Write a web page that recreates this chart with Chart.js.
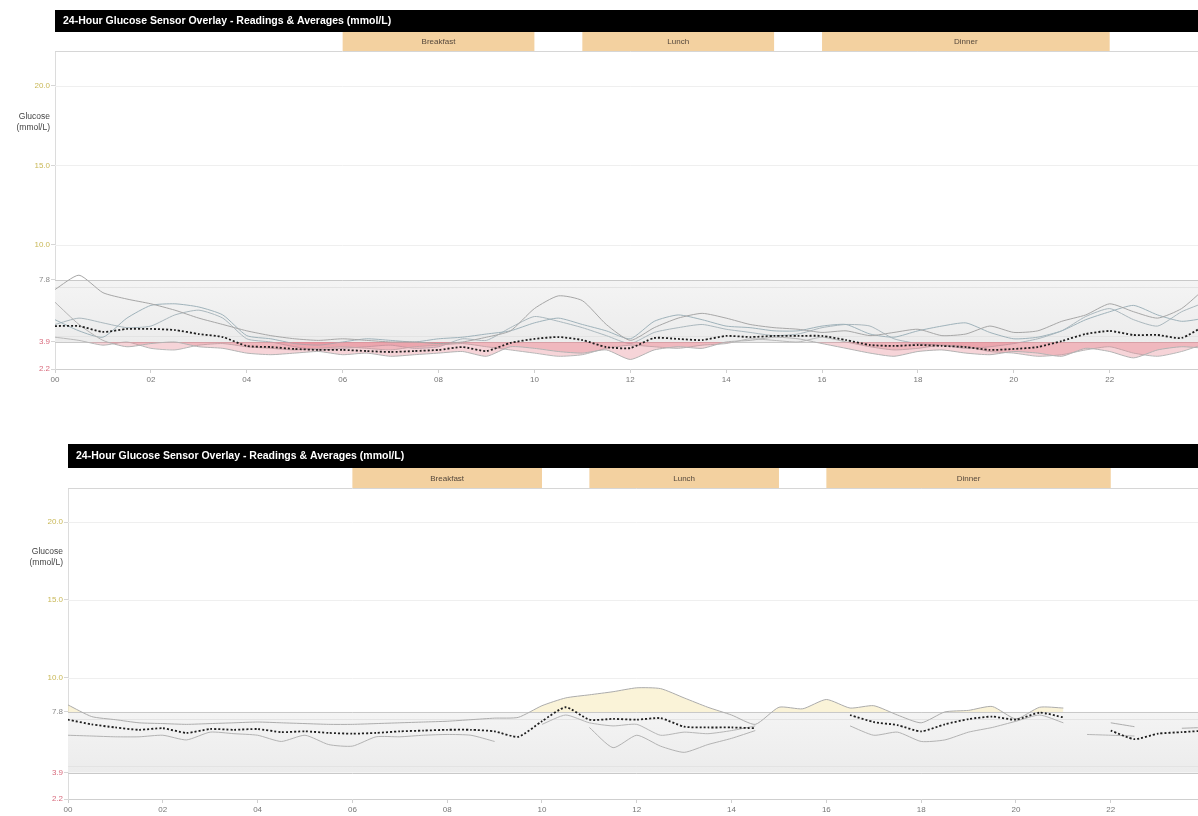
<!DOCTYPE html>
<html>
<head>
<meta charset="utf-8">
<script src="https://cdn.jsdelivr.net/npm/chart.js@4.4.1/dist/chart.umd.min.js"></script>
<style>
  html, body { margin: 0; padding: 0; background: #fff; overflow: hidden; width: 1198px; height: 816px; }
  .panel { position: absolute; left: 0; }
</style>
</head>
<body>
<div class="panel" style="top:0"><canvas id="topChart" width="1212" height="395"></canvas></div>
<div class="panel" style="top:430px"><canvas id="bottomChart" width="1212" height="386"></canvas></div>
<script>
const titleText = '24-Hour Glucose Sensor Overlay - Readings & Averages (mmol/L)'

const hours = [0, 0.5, 1, 1.5, 2, 2.5, 3, 3.5, 4, 4.5, 5, 5.5, 6, 6.5, 7, 7.5, 8, 8.5, 9, 9.5,
  10, 10.5, 11, 11.5, 12, 12.5, 13, 13.5, 14, 14.5, 15, 15.5, 16, 16.5, 17, 17.5, 18, 18.5, 19, 19.5,
  20, 20.5, 21, 21.5, 22, 22.5, 23, 23.5, 24]

const yTicks = [2.2, 3.9, 7.8, 10.0, 15.0, 20.0]
const targetLow = 3.9
const targetHigh = 7.8

const meals = ['Breakfast', 'Lunch', 'Dinner']
const mealStart = [6, 11, 16]
const mealEnd = [10, 15, 22]

// top panel - individual days
const topDay1 = [7.2, 8.1, 7.0, 6.6, 6.3, 5.9, 5.4, 5.0, 4.6, 4.3, 4.1, 4.0, 4.1, 4.0, 3.9, 3.9, 3.8, 3.9, 4.2, 4.6,
  6.0, 6.8, 6.5, 5.0, 4.0, 4.8, 5.4, 5.7, 5.4, 5.0, 4.8, 4.7, 4.5, 4.6, 4.3, 4.5, 4.7, 4.3, 4.4, 4.9,
  4.5, 4.6, 5.2, 5.6, 6.3, 5.8, 5.4, 6.0, 7.3]
const topDay2 = [6.4, 5.0, 4.0, 3.6, 3.8, 3.9, 3.6, 3.5, 3.2, 3.1, 3.2, 3.3, 3.1, 3.2, 3.0, 3.1, 3.2, 3.3, 3.0, 3.6,
  3.5, 3.3, 3.2, 3.4, 2.8, 3.4, 3.6, 3.5, 3.9, 4.0, 4.2, 4.1, 3.8, 3.5, 3.2, 3.0, 3.3, 3.4, 3.2, 3.1,
  3.3, 3.2, 3.0, 3.5, 3.3, 2.9, 3.4, 3.6, 3.5]
const topDay3 = [5.3, 4.6, 4.2, 5.4, 6.2, 6.3, 6.1, 5.6, 4.3, 4.1, 3.8, 3.7, 3.9, 4.1, 4.0, 3.9, 4.1, 4.2, 4.4, 4.6,
  5.1, 5.4, 5.0, 4.6, 4.1, 5.2, 5.6, 5.3, 4.9, 4.8, 4.6, 4.6, 4.9, 5.0, 4.4, 4.2, 4.6, 4.9, 5.1, 4.5,
  4.1, 4.2, 4.6, 5.3, 5.8, 6.2, 5.6, 5.2, 5.4]
const topDay4 = [4.2, 4.0, 3.7, 3.9, 3.5, 3.4, 3.7, 3.8, 3.6, 3.5, 3.4, 3.5, 3.6, 3.5, 3.4, 3.6, 3.7, 3.8, 3.6, 3.4,
  3.2, 3.0, 3.1, 3.5, 3.7, 3.6, 3.5, 3.7, 3.8, 4.1, 4.0, 3.9, 4.2, 3.9, 3.6, 3.4, 3.5, 3.7, 3.6, 3.3,
  3.2, 3.0, 3.1, 3.4, 3.6, 3.2, 3.0, 3.3, 3.8]
const topDay5 = [5.0, 5.4, 5.1, 4.8, 4.9, 5.6, 5.9, 5.4, 4.1, 3.9, 3.6, 3.4, 3.5, 3.6, 3.7, 3.5, 3.6, 4.1, 4.0, 4.8,
  5.5, 5.2, 4.8, 4.3, 3.8, 4.5, 4.8, 5.0, 4.7, 4.5, 4.3, 4.4, 4.8, 5.0, 4.9, 4.1, 3.8, 3.7, 3.5, 3.6,
  3.8, 4.1, 4.6, 5.5, 6.0, 5.3, 4.9, 5.8, 6.4]
const topAverage = [4.90, 4.90, 4.53, 4.72, 4.72, 4.65, 4.40, 4.21, 3.65, 3.58, 3.46, 3.40, 3.40, 3.33, 3.27, 3.33, 3.40, 3.58, 3.33, 3.84,
  4.09, 4.21, 4.02, 3.58, 3.52, 4.15, 4.09, 4.02, 4.28, 4.21, 4.28, 4.28, 4.28, 4.02, 3.71, 3.65, 3.71, 3.65, 3.58, 3.40,
  3.46, 3.58, 3.96, 4.40, 4.59, 4.34, 4.34, 4.15, 4.97]

// bottom panel - individual days
const bottomDay1 = [8.25, 7.5, 7.3, 7.1, 7.05, 7.0, 7.05, 7.1, 7.15, 7.1, 7.05, 7.0, 7.0, 7.05, 7.1, 7.15, 7.2, 7.3, 7.4, 7.45,
  8.2, 8.7, 8.9, 9.1, 9.35, 9.3, 8.7, 8.1, 7.6, 7.0, 8.1, 8.0, 8.6, 8.05, 8.2, 7.6, 7.1, 7.8, 7.9, 8.15,
  7.35, 8.1, 8.05, null, 7.1, 6.85, null, 6.75, 6.8]
const bottomDay2 = [6.3, 6.25, 6.2, 6.2, 6.3, 6.0, 6.5, 6.4, 6.3, 5.9, 6.3, 5.7, 5.6, 6.2, 6.2, 6.3, 6.35, 6.3, 5.9, null,
  null, null, 6.8, 5.5, 6.3, 5.6, 5.2, 5.7, 6.1, 6.6, null, null, null, 6.9, 6.3, 6.5, 5.9, 6.0, 6.5, 6.8,
  7.2, 7.6, 7.1, null, null, null, null, null, null]
const bottomDay3 = [null, null, null, null, null, null, null, null, null, null, null, null, null, null, null, null, null, null, null, null,
  7.0, 7.6, 7.1, 6.9, 7.0, 6.3, 6.5, 6.4, 6.6, 6.9, null, null, null, null, null, null, null, null, null, null,
  null, null, null, 6.35, 6.3, 6.25, null, null, null]
const bottomAverage = [7.3, 7.0, 6.8, 6.65, 6.75, 6.45, 6.7, 6.65, 6.7, 6.5, 6.55, 6.45, 6.4, 6.45, 6.55, 6.6, 6.65, 6.65, 6.55, 6.2,
  7.2, 8.1, 7.3, 7.35, 7.3, 7.4, 6.85, 6.8, 6.8, 6.75, null, null, null, 7.6, 7.15, 6.95, 6.55, 7.0, 7.34, 7.5,
  7.3, 7.75, 7.45, null, 6.6, 6.05, 6.4, 6.5, 6.6]

const FONT = '"Liberation Sans", Arial, sans-serif'

function tickColor(v) {
  if (v >= 10) return '#c9b857'
  if (v >= 7.8) return '#8a8a8a'
  return '#d86a7c'
}

const panelDecor = {
  id: 'panelDecor',
  beforeDatasetsDraw(chart) {
    const { ctx, chartArea: a, scales: { y } } = chart
    const yHi = y.getPixelForValue(targetHigh)
    const yLo = y.getPixelForValue(targetLow)
    ctx.save()
    ctx.lineWidth = 1
    ctx.strokeStyle = '#efefef'
    ;[10, 15, 20].forEach(v => {
      const p = Math.round(y.getPixelForValue(v)) + 0.5
      ctx.beginPath(); ctx.moveTo(a.left, p); ctx.lineTo(a.right, p); ctx.stroke()
    })
    const g = ctx.createLinearGradient(0, yHi, 0, yLo)
    g.addColorStop(0, '#f4f4f4')
    g.addColorStop(1, '#ececec')
    ctx.fillStyle = g
    ctx.fillRect(a.left, yHi, a.right - a.left, yLo - yHi)
    ctx.strokeStyle = '#e3e3e3'
    ;[targetHigh - 0.45, targetLow + 0.4].forEach(v => {
      const p = Math.round(y.getPixelForValue(v)) + 0.5
      ctx.beginPath(); ctx.moveTo(a.left, p); ctx.lineTo(a.right, p); ctx.stroke()
    })
    ctx.strokeStyle = '#c9c9c9'
    ;[targetHigh, targetLow].forEach(v => {
      const p = Math.round(y.getPixelForValue(v)) + 0.5
      ctx.beginPath(); ctx.moveTo(a.left, p); ctx.lineTo(a.right, p); ctx.stroke()
    })
    ctx.restore()
  },
  afterDraw(chart, args, o) {
    const { ctx, chartArea: a, scales: { x, y } } = chart
    ctx.save()
    // title bar
    ctx.fillStyle = '#000'
    ctx.fillRect(a.left, o.barTop, chart.width - a.left, o.barHeight)
    ctx.fillStyle = '#fff'
    ctx.font = 'bold 10.5px ' + FONT
    ctx.textAlign = 'left'
    ctx.textBaseline = 'middle'
    ctx.fillText(titleText, a.left + 8, o.barTop + o.barHeight / 2 + 0.5)
    // meal row
    const rowTop = o.barTop + o.barHeight
    ctx.fillStyle = '#fff'
    ctx.fillRect(a.left, rowTop, chart.width - a.left, a.top - rowTop)
    meals.forEach((m, i) => {
      const x0 = x.getPixelForValue(mealStart[i])
      const x1 = x.getPixelForValue(mealEnd[i])
      ctx.fillStyle = '#f3d1a0'
      ctx.fillRect(x0, rowTop, x1 - x0, a.top - rowTop)
      ctx.fillStyle = '#55483c'
      ctx.font = '8px ' + FONT
      ctx.textAlign = 'center'
      ctx.fillText(m, (x0 + x1) / 2, (rowTop + a.top) / 2 + 0.5)
    })
    ctx.strokeStyle = '#d6d6d6'
    ctx.lineWidth = 1
    ctx.beginPath(); ctx.moveTo(a.left, a.top + 0.5); ctx.lineTo(a.right, a.top + 0.5); ctx.stroke()
    // axis title
    ctx.fillStyle = '#444'
    ctx.font = '8.5px ' + FONT
    ctx.textAlign = 'right'
    const ty = y.getPixelForValue(18.1)
    ctx.fillText('Glucose', a.left - 5, ty)
    ctx.fillText('(mmol/L)', a.left - 5, ty + 11)
    ctx.restore()
  }
}

function points(values) {
  return hours.map((h, i) => ({ x: h, y: values[i] }))
}

function dayLine(values, color, fill) {
  return {
    data: points(values),
    borderColor: color,
    borderWidth: 1,
    pointRadius: 0,
    tension: 0.2,
    fill: fill,
    spanGaps: false
  }
}

function averageLine(values) {
  return {
    data: points(values),
    borderColor: '#1e1e1e',
    borderWidth: 1.8,
    borderDash: [2, 2],
    pointRadius: 0,
    tension: 0.2,
    fill: false,
    spanGaps: false
  }
}

function makeChart(id, datasets, p) {
  return new Chart(document.getElementById(id), {
    type: 'line',
    data: { datasets },
    plugins: [panelDecor],
    options: {
      responsive: false,
      animation: false,
      devicePixelRatio: 1,
      layout: { padding: { top: p.padTop, right: p.padRight, left: 0, bottom: 0 } },
      scales: {
        x: {
          type: 'linear',
          min: 0,
          max: 24,
          afterFit: s => { s.height = p.xAxisHeight },
          ticks: {
            stepSize: 2,
            autoSkip: false,
            maxRotation: 0,
            padding: 2,
            color: '#777',
            font: { size: 8, family: FONT },
            callback: v => String(v % 24).padStart(2, '0')
          },
          grid: { drawOnChartArea: false, tickLength: 4, color: '#cfcfcf' },
          border: { color: '#cfcfcf' }
        },
        y: {
          min: 2.2,
          max: 22.2,
          afterBuildTicks: s => { s.ticks = yTicks.map(v => ({ value: v })) },
          afterFit: s => { s.width = p.axisWidth },
          ticks: {
            padding: 1,
            color: c => tickColor(c.tick.value),
            font: { size: 8, family: FONT },
            callback: v => Number(v).toFixed(1)
          },
          grid: { drawOnChartArea: false, tickLength: 4, color: '#d6d6d6' },
          border: { color: '#dcdcdc' }
        }
      },
      plugins: {
        legend: { display: false },
        tooltip: { enabled: false },
        panelDecor: { barTop: p.barTop, barHeight: p.barHeight }
      }
    }
  })
}

const lowFill = { target: { value: targetLow }, above: 'rgba(0,0,0,0)', below: 'rgba(228,128,142,0.34)' }
const highFill = { target: { value: targetHigh }, above: 'rgba(246,232,178,0.5)', below: 'rgba(0,0,0,0)' }

makeChart('topChart', [
  averageLine(topAverage),
  dayLine(topDay1, '#a6a6a6', lowFill),
  dayLine(topDay2, '#b3b3b3', lowFill),
  dayLine(topDay3, '#9fb2ba', lowFill),
  dayLine(topDay4, '#b8b8b8', lowFill),
  dayLine(topDay5, '#aab7bd', lowFill)
], { padTop: 51, padRight: 5, axisWidth: 55, xAxisHeight: 26, barTop: 10, barHeight: 22 })

makeChart('bottomChart', [
  averageLine(bottomAverage),
  dayLine(bottomDay1, '#acacac', highFill),
  dayLine(bottomDay2, '#b2b2b2', highFill),
  dayLine(bottomDay3, '#b6b6b6', highFill)
], { padTop: 58, padRight: 6, axisWidth: 68, xAxisHeight: 17, barTop: 14, barHeight: 24 })
</script>
</body>
</html>
